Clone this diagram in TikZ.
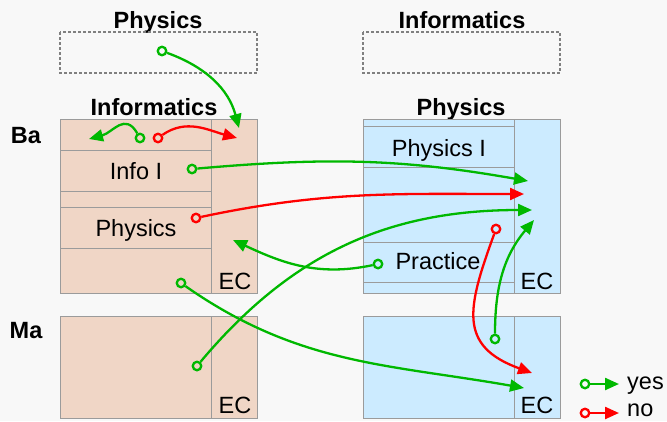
\documentclass[tikz,border=0pt]{standalone}
\usepackage{fontspec}
\setmainfont{Liberation Sans}
\usetikzlibrary{arrows.meta}
\definecolor{yesgreen}{RGB}{0,184,0}
\definecolor{nored}{RGB}{255,0,0}
\definecolor{infofill}{RGB}{240,214,198}
\definecolor{physfill}{RGB}{204,235,255}
\definecolor{boxline}{RGB}{155,155,155}
\definecolor{pagebg}{RGB}{248,248,248}

\begin{document}
\begin{tikzpicture}[x=1pt,y=-1pt,
  every node/.style={font=\fontsize{23.5}{26}\selectfont,inner sep=0pt},
  head/.style={font=\fontsize{23.5}{26}\selectfont\bfseries,anchor=base},
  course/.style={anchor=base},
  box/.style={draw=boxline,line width=1pt},
  ghost/.style={draw=gray,line width=1.2pt,dash pattern=on 3pt off 2pt},
  port/.style={circle,draw,line width=2.3pt,minimum size=8.5pt,inner sep=0pt},
  flow/.style={-{Triangle[length=14pt,width=12pt]},line width=2.3pt}]
  % canvas
  \fill[pagebg] (0,0) rectangle (667,421);

  % headers
  \node[head] (srcphys) at (158,28) {Physics};
  \node[head] (srcinfo) at (462,28) {Informatics};
  \node[head] (ownleft) at (154,115) {Informatics};
  \node[head] (ownright) at (461,115) {Physics};
  \node[head] (ba) at (26,143) {Ba};
  \node[head] (ma) at (26,338) {Ma};

  % dashed source boxes
  \draw[ghost] (60,32) rectangle (257,73);
  \draw[ghost] (363,32) rectangle (560,73);

  % Informatics programme (left)
  \draw[box,fill=infofill] (60,119) rectangle (257,293);
  \draw[box] (211,119) -- (211,293);
  \draw[box] (60,150) -- (211,150);
  \draw[box] (60,191) -- (211,191);
  \draw[box] (60,207) -- (211,207);
  \draw[box] (60,248) -- (211,248);
  \draw[box,fill=infofill] (60,316) rectangle (257,418);
  \draw[box] (211,316) -- (211,418);
  \node[course] (infoI) at (136,179.5) {Info I};
  \node[course] (physL) at (136,236) {Physics};
  \node[course] (ecLba) at (235,289.5) {EC};
  \node[course] (ecLma) at (235,413.5) {EC};

  % Physics programme (right)
  \draw[box,fill=physfill] (363,119) rectangle (560,293);
  \draw[box] (514,119) -- (514,293);
  \draw[box] (363,126) -- (514,126);
  \draw[box] (363,167) -- (514,167);
  \draw[box] (363,242) -- (514,242);
  \draw[box] (363,282) -- (514,282);
  \draw[box,fill=physfill] (363,316) rectangle (560,418);
  \draw[box] (514,316) -- (514,418);
  \node[course] (physI) at (439,156) {Physics I};
  \node[course] (practice) at (438,269) {Practice};
  \node[course] (ecRba) at (537,289.5) {EC};
  \node[course] (ecRma) at (537,413.5) {EC};

  % ports and targets
  \node[port,yesgreen] (p1) at (162,51) {};
  \node[port,yesgreen] (p2) at (140,138) {};
  \node[port,nored] (p3) at (158,138) {};
  \node[port,yesgreen] (p4) at (192,169) {};
  \node[port,nored] (p5) at (196,218) {};
  \node[port,yesgreen] (p6) at (197,366) {};
  \node[port,yesgreen] (p7) at (378,264) {};
  \node[port,nored] (p8) at (496,229) {};
  \node[port,yesgreen] (p9) at (495,339) {};
  \node[port,yesgreen] (p10) at (181,283) {};
  \coordinate (t1) at (239,128);
  \coordinate (t2) at (89,139);
  \coordinate (t3) at (237,138);
  \coordinate (t4) at (528,181);
  \coordinate (t5) at (524,194);
  \coordinate (t6) at (532,210);
  \coordinate (t7) at (233,240);
  \coordinate (t8) at (532,373);
  \coordinate (t9) at (534,220);
  \coordinate (t10) at (524,388);

  % recognitions
  \draw[flow,yesgreen] (p1) to[out=-20,in=105] (t1);
  \draw[flow,yesgreen] (p2) to[out=120,in=15,looseness=1.3] (t2);
  \draw[flow,nored] (p3) to[out=35,in=165] (t3);
  \draw[flow,yesgreen] (p4) to[out=5,in=170] (t4);
  \draw[flow,nored] (p5) to[out=12,in=180] (t5);
  \draw[flow,yesgreen] (p6) to[out=50,in=180] (t6);
  \draw[flow,yesgreen] (p7) to[out=192,in=-25] (t7);
  \draw[flow,nored] (p8) to[out=250,in=160,looseness=1.4] (t8);
  \draw[flow,yesgreen] (p9) to[out=90,in=230] (t9);
  \draw[flow,yesgreen] (p10) to[out=-35,in=170] (t10);

  % legend
  \node[port,yesgreen] (lgyes) at (585,384) {};
  \coordinate (lgyesend) at (619,384);
  \draw[flow,yesgreen] (lgyes) -- (lgyesend);
  \node[course,anchor=base west] (yes) at (627,389) {yes};
  \node[port,nored] (lgno) at (585,413) {};
  \coordinate (lgnoend) at (619,413);
  \draw[flow,nored] (lgno) -- (lgnoend);
  \node[course,anchor=base west] (no) at (627,416) {no};
\end{tikzpicture}
\end{document}
